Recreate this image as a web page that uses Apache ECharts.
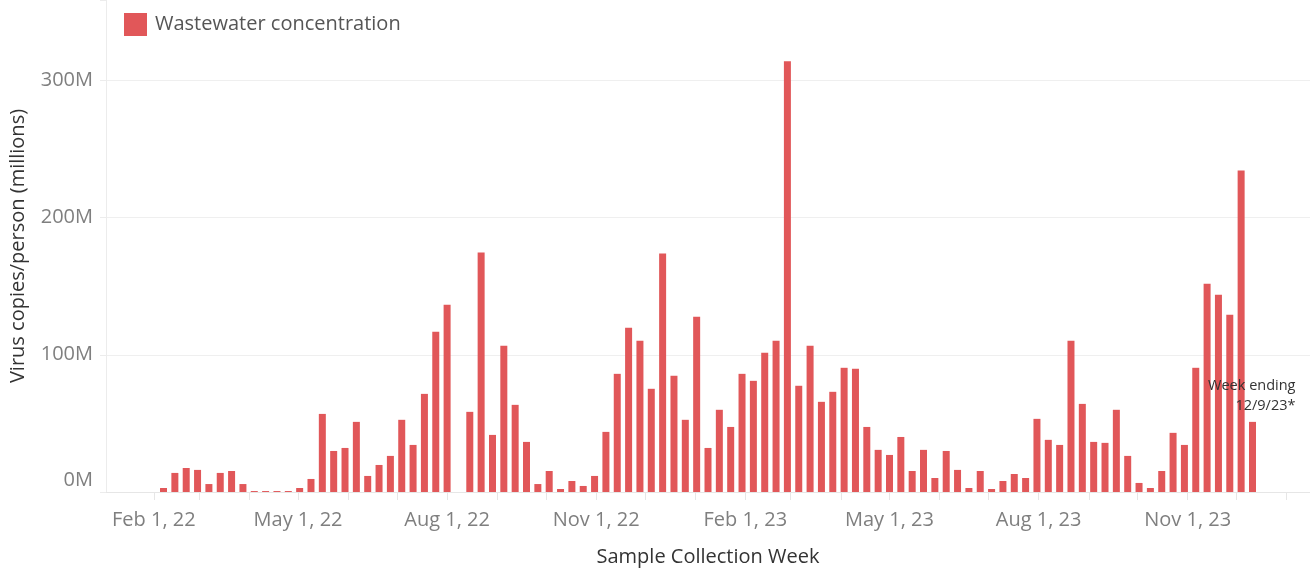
<!DOCTYPE html>
<html>
<head>
<meta charset="utf-8">
<script src="https://cdn.jsdelivr.net/npm/echarts@6/dist/echarts.min.js"></script>
<style>
  html, body { margin: 0; padding: 0; background: #fff; }
  #chart { width: 1310px; height: 571px; }
</style>
</head>
<body>
<div id="chart"></div>
<script>
// Sample collection weeks (as plotted)
const weeks = [
  '2022-02-07','2022-02-14','2022-02-21','2022-02-28',
  '2022-03-07','2022-03-14','2022-03-21','2022-03-28',
  '2022-04-04','2022-04-11','2022-04-18','2022-04-25',
  '2022-05-02','2022-05-09','2022-05-16','2022-05-23','2022-05-30',
  '2022-06-06','2022-06-13','2022-06-20','2022-06-27',
  '2022-07-04','2022-07-11','2022-07-18','2022-07-25',
  '2022-08-01','2022-08-08','2022-08-15','2022-08-22','2022-08-29',
  '2022-09-05','2022-09-12','2022-09-19','2022-09-26',
  '2022-10-03','2022-10-10','2022-10-17','2022-10-24','2022-10-31',
  '2022-11-07','2022-11-14','2022-11-21','2022-11-28',
  '2022-12-05','2022-12-12','2022-12-19','2022-12-26',
  '2023-01-02','2023-01-09','2023-01-16','2023-01-23','2023-01-30',
  '2023-02-06','2023-02-13','2023-02-20','2023-02-27',
  '2023-03-06','2023-03-13','2023-03-20','2023-03-27',
  '2023-04-03','2023-04-10','2023-04-17','2023-04-24',
  '2023-05-01','2023-05-08','2023-05-15','2023-05-22','2023-05-29',
  '2023-06-05','2023-06-12','2023-06-19','2023-06-26',
  '2023-07-03','2023-07-10','2023-07-17','2023-07-24','2023-07-31',
  '2023-08-07','2023-08-14','2023-08-21','2023-08-28',
  '2023-09-04','2023-09-11','2023-09-18','2023-09-25',
  '2023-10-02','2023-10-09','2023-10-16','2023-10-23','2023-10-30',
  '2023-11-06','2023-11-13','2023-11-20','2023-11-27',
  '2023-12-04','2023-12-11'
];

// Wastewater concentration, virus copies/person (millions)
const concentration = [
  2.9, 13.9, 17.5, 16.1,
  5.8, 13.9, 15.3, 5.8,
  0.7, 0.7, 0.7, 0.7,
  2.9, 9.5, 56.9, 29.9, 32.1,
  51.1, 11.7, 19.7, 26.3,
  52.6, 34.3, 71.5, 116.8,
  136.5, null, 58.4, 174.5, 41.6,
  106.6, 63.5, 36.5, 5.8,
  15.3, 2.2, 8.0, 4.4, 11.7,
  43.8, 86.1, 119.7, 110.2,
  75.2, 173.7, 84.7, 52.6,
  127.7, 32.1, 59.9, 47.4, 86.1,
  81.0, 101.5, 110.2, 313.9,
  77.4, 106.6, 65.7, 73.0,
  90.5, 89.8, 47.4, 30.7,
  27.0, 40.1, 15.3, 30.7, 10.2,
  29.9, 16.1, 2.9, 15.3,
  2.2, 8.0, 13.1, 10.2, 53.3,
  38.0, 34.3, 110.2, 64.2,
  36.5, 35.8, 59.9, 26.3,
  6.6, 2.9, 15.3, 43.1, 34.3,
  90.5, 151.8, 143.8, 129.2,
  234.3, 51.1
];

// Axis ticks
const xTickMonths = [
  '2022-02-01','2022-03-01','2022-04-01','2022-05-01','2022-06-01','2022-07-01',
  '2022-08-01','2022-09-01','2022-10-01','2022-11-01','2022-12-01',
  '2023-01-01','2023-02-01','2023-03-01','2023-04-01','2023-05-01','2023-06-01',
  '2023-07-01','2023-08-01','2023-09-01','2023-10-01','2023-11-01','2023-12-01',
  '2024-01-01'
];
const xLabelDates = ['2022-02-01','2022-05-01','2022-08-01','2022-11-01','2023-02-01','2023-05-01','2023-08-01','2023-11-01'];
const xTickLabels = ['Feb 1, 22','May 1, 22','Aug 1, 22','Nov 1, 22','Feb 1, 23','May 1, 23','Aug 1, 23','Nov 1, 23'];
const yTickValues = [0, 100, 200, 300];
const yTickLabels = ['0M', '100M', '200M', '300M'];

const lastNote = 'Week ending\n12/9/23*';

function ts(s) {
  const p = s.split('-').map(Number);
  return Date.UTC(p[0], p[1] - 1, p[2]);
}

const labelTs = xLabelDates.map(ts);
const FONT = 'Open Sans';

const seriesData = weeks.map((w, i) => {
  const item = { value: [ts(w), concentration[i]] };
  if (i === weeks.length - 1) {
    item.label = {
      show: true,
      position: 'top',
      formatter: lastNote,
      align: 'right',
      offset: [43, -1],
      fontFamily: FONT,
      fontSize: 14.5,
      lineHeight: 20,
      color: '#333'
    };
  }
  return item;
});

const chart = echarts.init(document.getElementById('chart'), null, { renderer: 'canvas' });

chart.setOption({
  animation: false,
  backgroundColor: '#fff',
  textStyle: { fontFamily: FONT },
  legend: {
    show: true,
    left: 124,
    top: 13,
    padding: 0,
    itemWidth: 23,
    itemHeight: 23,
    icon: 'rect',
    textStyle: { fontFamily: FONT, fontSize: 20, color: '#555', padding: [3, 0, 0, 3] },
    data: ['Wastewater concentration']
  },
  grid: { left: 106, right: 0, top: 0, bottom: 79, containLabel: false, outerBoundsMode: 'none' },
  xAxis: {
    type: 'value',
    min: Date.UTC(2022, 0, 2, 12),
    max: Date.UTC(2024, 0, 15, 12),
    name: 'Sample Collection Week',
    nameLocation: 'middle',
    nameGap: 55,
    nameTextStyle: { fontFamily: FONT, fontSize: 20, color: '#333' },
    axisLine: { show: true, onZero: false, lineStyle: { color: '#e6e6e6', width: 1 } },
    axisTick: {
      show: true,
      length: 8,
      lineStyle: { color: '#e6e6e6', width: 1 },
      customValues: xTickMonths.map(ts)
    },
    axisLabel: {
      customValues: labelTs,
      margin: 18,
      fontFamily: FONT,
      fontSize: 20,
      color: '#7f7f7f',
      formatter: function (v) {
        const i = labelTs.indexOf(v);
        return i >= 0 ? xTickLabels[i] : '';
      }
    },
    splitLine: { show: false }
  },
  yAxis: {
    type: 'value',
    min: 0,
    max: 358.5,
    interval: 100,
    name: 'Virus copies/person (millions)',
    nameLocation: 'middle',
    nameGap: 78,
    nameTextStyle: { fontFamily: FONT, fontSize: 20, color: '#333' },
    axisLine: { show: true, lineStyle: { color: '#ececec', width: 1 } },
    axisTick: { show: true, length: 6, lineStyle: { color: '#ececec' } },
    axisLabel: {
      margin: 13,
      fontFamily: FONT,
      fontSize: 20,
      color: '#7f7f7f',
      formatter: function (v) {
        const i = yTickValues.indexOf(v);
        if (i < 0) return '';
        return v === 0 ? '{z|' + yTickLabels[i] + '}' : yTickLabels[i];
      },
      rich: {
        z: { fontFamily: FONT, fontSize: 20, color: '#7f7f7f', padding: [0, 0, 24, 0] }
      }
    },
    splitLine: { show: true, showMinLine: false, showMaxLine: false, lineStyle: { color: '#efefef', width: 1 } }
  },
  series: [{
    name: 'Wastewater concentration',
    type: 'bar',
    barWidth: 7,
    itemStyle: { color: '#e15759' },
    data: seriesData
  }]
});
</script>
</body>
</html>
